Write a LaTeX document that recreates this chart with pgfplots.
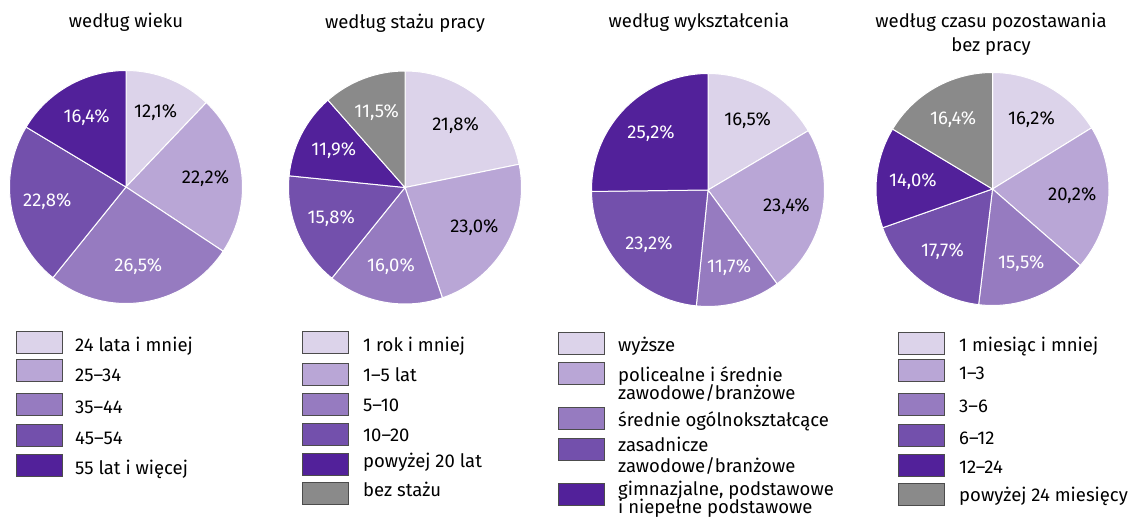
\documentclass[border=0pt]{standalone}
\usepackage{fontspec}
\setmainfont{Fira Sans}
\usepackage{pgfplots}
\pgfplotsset{compat=1.18}
\definecolor{c1}{HTML}{DCD3EA}
\definecolor{c2}{HTML}{B9A6D6}
\definecolor{c3}{HTML}{967BC0}
\definecolor{c4}{HTML}{7350AC}
\definecolor{c5}{HTML}{52219A}
\definecolor{c6}{HTML}{8A8A8A}
\newcommand\lab{\fontsize{18.5}{19}\selectfont}
\newcommand\leg{\fontsize{18.5}{19}\selectfont}
\pgfkeys{/pgf/number format/.cd,fixed,fixed zerofill,precision=1,use comma,assume math mode=true}
% pie: centre x, centre y, list value/fill/text colour (clockwise from 12 o'clock)
\newcommand\pie[3]{%
  \gdef\acc{90}%
  \foreach \v/\c/\t in {#3} {%
    \pgfmathsetmacro\a{\acc}%
    \pgfmathsetmacro\b{\a-3.6*\v}%
    \pgfmathsetmacro\m{(\a+\b)/2}%
    \edef\temp{\noexpand\fill[\c, draw=white, line width=1pt]
        (axis cs:#1,#2) -- ++(\a:116.5) arc[start angle=\a, end angle=\b, radius=116.5] -- cycle;
      \noexpand\node[text=\t, font=\noexpand\lab] at ([shift={(\m:80)}]axis cs:#1,#2)
        {\noexpand\pgfmathprintnumber{\v}\noexpand\%};}%
    \temp
    \xdef\acc{\b}%
  }}
\newcommand\lbox[3]{\draw[fill=#3, draw=black!70, line width=0.7pt] (axis cs:#1,#2) rectangle ++(46pt,-22pt);}
\newcommand\ltxt[3]{\node[anchor=base west, font=\leg, inner sep=0pt] at (axis cs:#1,#2) {#3};}
\begin{document}
\begin{tikzpicture}
\begin{axis}[name=ax, width=1133pt, height=519pt, scale only axis,
  xmin=0, xmax=1133, ymin=0, ymax=519, hide axis, clip=false]

% titles
\node[anchor=base, font=\leg] at (axis cs:126,491) {według wieku};
\node[anchor=base, font=\leg] at (axis cs:405,490) {według stażu pracy};
\node[anchor=base, font=\leg] at (axis cs:699,491) {według wykształcenia};
\node[anchor=base, font=\leg] at (axis cs:991,491) {według czasu pozostawania};
\node[anchor=base, font=\leg] at (axis cs:991,467) {bez pracy};

% pies
\pie{126}{332}{12.1/c1/black, 22.2/c2/black, 26.5/c3/white, 22.8/c4/white, 16.4/c5/white}
\pie{405}{331.5}{21.8/c1/black, 23.0/c2/black, 16.0/c3/white, 15.8/c4/white, 11.9/c5/white, 11.5/c6/white}
\pie{708}{329}{16.5/c1/black, 23.4/c2/black, 11.7/c3/white, 23.2/c4/white, 25.2/c5/white}
\pie{992.5}{330}{16.2/c1/black, 20.2/c2/black, 15.5/c3/white, 17.7/c4/white, 14.0/c5/white, 16.4/c6/white}

% legend 1
\lbox{16}{188}{c1} \ltxt{75}{167}{24 lata i mniej}
\lbox{16}{160}{c2} \ltxt{75}{137}{25–34}
\lbox{16}{126}{c3} \ltxt{75}{105}{35–44}
\lbox{16}{95}{c4}  \ltxt{75}{74}{45–54}
\lbox{16}{65}{c5}  \ltxt{75}{44}{55 lat i więcej}

% legend 2
\lbox{302}{188}{c1} \ltxt{363}{167}{1 rok i mniej}
\lbox{302}{156}{c2} \ltxt{363}{137}{1–5 lat}
\lbox{302}{126}{c3} \ltxt{363}{107}{5–10}
\lbox{302}{96}{c4}  \ltxt{363}{77}{10–20}
\lbox{302}{66}{c5}  \ltxt{363}{51}{powyżej 20 lat}
\lbox{302}{37}{c6}  \ltxt{363}{22}{bez stażu}

% legend 3
\lbox{558}{187}{c1} \ltxt{618}{167}{wyższe}
\lbox{558}{157}{c2} \ltxt{618}{137}{policealne i średnie}
                    \ltxt{618}{119}{zawodowe/branżowe}
\lbox{558}{112}{c3} \ltxt{618}{92}{średnie ogólnokształcące}
\lbox{558}{81}{c4}  \ltxt{618}{67}{zasadnicze}
                    \ltxt{618}{46}{zawodowe/branżowe}
\lbox{558}{36}{c5}  \ltxt{618}{23}{gimnazjalne, podstawowe}
                    \ltxt{618}{5.5}{i niepełne podstawowe}

% legend 4
\lbox{898}{187}{c1} \ltxt{959}{167}{1 miesiąc i mniej}
\lbox{898}{160}{c2} \ltxt{959}{139}{1–3}
\lbox{898}{126}{c3} \ltxt{959}{106}{3–6}
\lbox{898}{95}{c4}  \ltxt{959}{74}{6–12}
\lbox{898}{65}{c5}  \ltxt{959}{45}{12–24}
\lbox{898}{36}{c6}  \ltxt{959}{17}{powyżej 24 miesięcy}
\end{axis}
\pgfresetboundingbox
\useasboundingbox (ax.south west) rectangle (ax.north east);
\end{tikzpicture}
\end{document}
